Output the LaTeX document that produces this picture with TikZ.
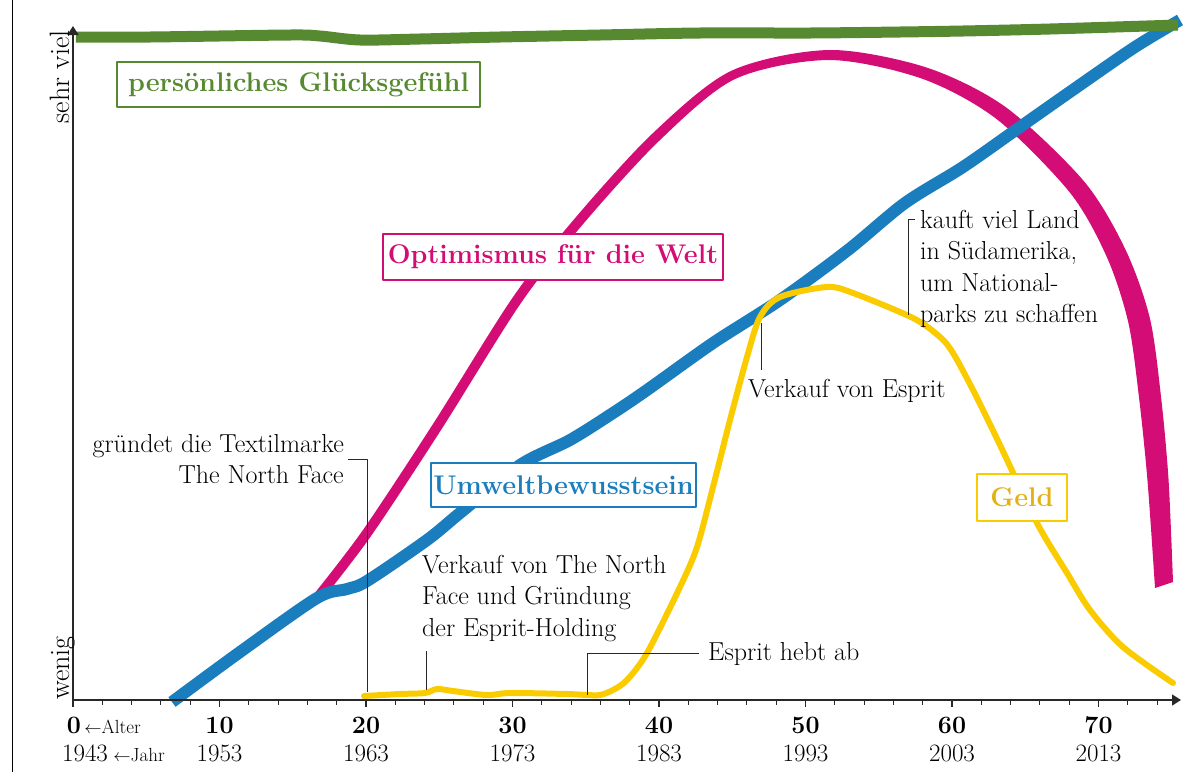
\documentclass[tikz,border=0pt]{standalone}
\usetikzlibrary{arrows.meta,positioning}
\definecolor{glueckgreen}{RGB}{86,137,48}
\definecolor{weltmagenta}{RGB}{212,12,118}
\definecolor{umweltblue}{RGB}{26,126,190}
\definecolor{geldyellow}{RGB}{250,204,0}
\definecolor{geldtext}{RGB}{226,178,18}
\definecolor{axisgray}{RGB}{40,40,40}
\tikzset{
  note/.style={inner sep=0pt,font=\fontsize{26}{31.5}\selectfont},
  curvelabel/.style={fill=white,line width=2.5pt,inner sep=0pt,
    font=\fontsize{27}{30}\selectfont\bfseries},
  leader/.style={line width=1pt,axisgray},
  agelabel/.style={inner sep=0pt,font=\fontsize{25}{27}\selectfont\bfseries},
  yearlabel/.style={inner sep=0pt,font=\fontsize{25}{27}\selectfont},
  unitlabel/.style={inner sep=0pt,font=\fontsize{19}{21}\selectfont},
  amountlabel/.style={inner sep=0pt,rotate=90,font=\fontsize{28}{30}\selectfont},
}
\begin{document}
\begin{tikzpicture}[x=1pt,y=-1pt,line join=round]
\useasboundingbox (0,0) rectangle (1202,772);
\draw[line width=0.8pt] (12,0) -- (12,772);

% Optimismus fuer die Welt (gets wider to the right)
\fill[weltmagenta] plot[smooth] coordinates {(314,594) (362.9,530.1) (432.8,424.3)
  (512.9,297.2) (576.2,216.8) (652.6,133.4) (731.1,70.9) (829,50) (925.9,67.3)
  (1005.5,107) (1084,181.3) (1125.1,248.8) (1149.7,317.5) (1160.9,395.7)
  (1168.5,479.2) (1173,582)}
  -- plot[smooth] coordinates {(1155,588) (1147.5,480.8) (1139.1,398.3)
  (1128.3,322.5) (1106.9,257.2) (1070,192.7) (996.5,119) (922.1,78.7) (829,60)
  (734.9,79.1) (659.4,140.6) (583.8,223.2) (521.1,302.8) (441.2,429.7)
  (371.1,535.9) (322,600)} -- cycle;

% Umweltbewusstsein
\draw[umweltblue,line width=12pt] plot[smooth] coordinates {(172,702) (240,652)
  (317,598) (347,589) (367,581) (427,540) (460,513) (520,465) (570,440) (613,413)
  (647,390) (713,343) (780,300) (848,250) (905,203) (963,167) (1020,127) (1077,87)
  (1135,47) (1180,20)};

% Geld
\draw[geldyellow,line width=6pt,line cap=round] plot[smooth] coordinates {(364,696)
  (400,694) (425,693) (437,689) (453,691) (487,695) (510,693) (567,694) (587,695)
  (600,695) (613,690) (627,680) (647,653) (680,587) (697,547) (713,487) (730,420)
  (747,357) (760,317) (780,297) (827,287) (853,293) (913,318) (940,337) (953,353)
  (973,390) (1000,445) (1037,523) (1067,573) (1090,610) (1123,647) (1173,683)};

% Gluecksgefuehl
\draw[glueckgreen,line width=11pt] plot[smooth] coordinates {(76,37) (150,37)
  (290,35) (320,36) (360,40) (420,39) (500,37) (600,35) (700,33) (810,33) (900,32)
  (963,31) (1050,29) (1178,25)};

% labels of the curves
\node[curvelabel,draw=glueckgreen,text=glueckgreen,minimum width=363pt,minimum height=45pt]
  (glueck) at (298.5,84.5) {persönliches Glücksgefühl};
\node[curvelabel,draw=weltmagenta,text=weltmagenta,minimum width=340pt,minimum height=46pt]
  (welt) at (553,257) {Optimismus für die Welt};
\node[curvelabel,draw=umweltblue,text=umweltblue,minimum width=265pt,minimum height=44pt]
  (umwelt) at (563.5,485) {Umweltbewusstsein};
\node[curvelabel,draw=geldyellow,text=geldtext,minimum width=90pt,minimum height=47pt]
  (geld) at (1022,497.5) {Geld};

% axes
\draw[axisgray,line width=1.5pt,-{Triangle[length=9pt,width=11pt]}] (73,700) -- (1181,700);
\draw[axisgray,line width=1.5pt,-{Triangle[length=9pt,width=11pt]}] (73,700) -- (73,26);
\foreach \a in {0,2,...,74}
  \draw[axisgray,line width=1pt] ({73+14.65*\a},700) -- ++(0,5);
\foreach \a in {0,10,...,70}
  \draw[axisgray,line width=1.5pt] ({73+14.65*\a},700) -- ++(0,7);

\node[amountlabel,anchor=base east] (sehrviel) at (69,30) {sehr viel};
\node[amountlabel,anchor=base west] (wenig) at (69,700) {wenig};

\node[agelabel] (age0) at (74,725) {0};
\node[unitlabel,base right=3pt of age0] (alter) {$\leftarrow$Alter};
\node[yearlabel] (year0) at (85,753) {1943};
\node[unitlabel,base right=5pt of year0] (jahr) {$\leftarrow$Jahr};
\foreach \a/\j in {10/1953,20/1963,30/1973,40/1983,50/1993,60/2003,70/2013} {
  \node[agelabel] (age\a) at ({73+14.65*\a},725) {\a};
  \node[yearlabel] (year\a) at ({73+14.65*\a},753) {\j};
}

% events
\coordinate (tnf) at (367,692);
\coordinate (holding) at (426,690);
\coordinate (takeoff) at (587,695);
\coordinate (esprit) at (761,323);
\coordinate (land) at (908,315);

\node[note,anchor=north east,align=right] (gruendet) at (344,434)
  {gründet die Textilmarke\\The North Face};
\draw[leader] ([xshift=4pt]gruendet.east) -| (tnf);

\node[note,anchor=north west,align=left] (verkaufnf) at (422,555)
  {Verkauf von The North\\Face und Gründung\\der Esprit-Holding};
\draw[leader] ([yshift=-9pt]holding |- verkaufnf.south) -- (holding);

\node[note,anchor=base west] (hebtab) at (708,660) {Esprit hebt ab};
\draw[leader] ([xshift=-9pt]hebtab.west) -| (takeoff);

\node[note,anchor=base west] (verkaufesprit) at (748,397) {Verkauf von Esprit};
\draw[leader] ([yshift=9pt]esprit |- verkaufesprit.north) -- (esprit);

\node[note,anchor=north west,align=left] (kauft) at (920,210)
  {kauft viel Land\\in Südamerika,\\um National-\\parks zu schaffen};
\draw[leader] ([xshift=-5pt,yshift=-9pt]kauft.north west) -| (land);
\end{tikzpicture}
\end{document}
